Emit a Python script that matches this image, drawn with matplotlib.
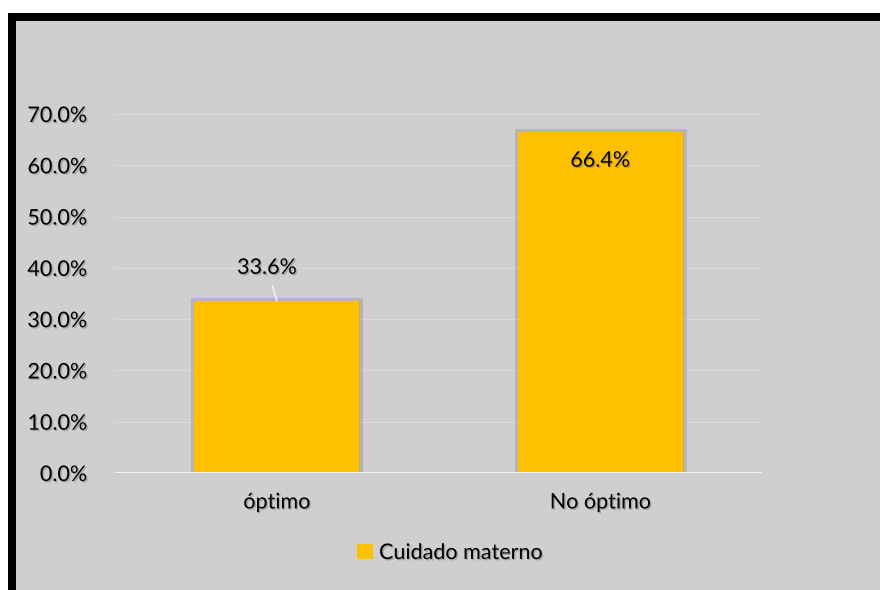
import matplotlib.pyplot as plt
import matplotlib.patheffects as pe
from matplotlib.patches import Rectangle
from matplotlib.ticker import FuncFormatter

# data
categorias = ['óptimo', 'No óptimo']
porcentajes = [0.336, 0.664]
serie = 'Cuidado materno'

bg = '#D0CECF'
amarillo = '#FFC000'
txt_shadow = [pe.withSimplePatchShadow(offset=(1, -1), shadow_rgbFace='#555555', alpha=0.35)]

plt.rcParams['font.family'] = ['Lato', 'DejaVu Sans']

fig = plt.figure(figsize=(8.8, 5.9), dpi=100)
fig.patch.set_facecolor('white')

# gray chart area with thick black frame (top and left visible)
fig.patches.append(Rectangle((8 / 880, 0), 1, 1 - 13 / 590, transform=fig.transFigure,
                             facecolor=bg, edgecolor='none', zorder=-2))
fig.patches.append(Rectangle((8 / 880, 1 - 21 / 590), 1, 8 / 590, transform=fig.transFigure,
                             facecolor='black', edgecolor='none', zorder=-1))
fig.patches.append(Rectangle((8 / 880, 0), 8 / 880, 1 - 13 / 590, transform=fig.transFigure,
                             facecolor='black', edgecolor='none', zorder=-1))

ax = fig.add_axes([115 / 880, 1 - 473 / 590, 647 / 880, 359 / 590])
ax.set_facecolor('none')
ax.set_zorder(2)

x = range(len(categorias))
bars = ax.bar(x, porcentajes, width=0.51, color=amarillo, zorder=3, label=serie)
for b in bars:
    b.set_path_effects([pe.Stroke(linewidth=5, foreground=(0, 0, 0, 0.12)),
                        pe.SimplePatchShadow(offset=(0, -2), shadow_rgbFace='black', alpha=0.15),
                        pe.Normal()])

ax.set_xlim(-0.5, len(categorias) - 0.5)
ax.set_ylim(0, 0.70)
ax.set_yticks([i / 10 for i in range(8)])
ax.yaxis.set_major_formatter(FuncFormatter(lambda v, _: f'{v * 100:.1f}%'))
ax.grid(axis='y', color='#DADADA', linewidth=0.8, zorder=1)
ax.axhline(0, color='#F2F2F2', linewidth=1.5, zorder=4)

for s in ax.spines.values():
    s.set_visible(False)
ax.tick_params(length=0, labelsize=15.5, colors='black')
ax.tick_params(axis='y', pad=20)
ax.tick_params(axis='x', pad=14)
ax.set_xticks(list(x))
ax.set_xticklabels(categorias)
for lab in ax.get_xticklabels() + ax.get_yticklabels():
    lab.set_path_effects(txt_shadow)

# data labels
ax.annotate(f'{porcentajes[0] * 100:.1f}%', xy=(0, porcentajes[0]), xytext=(-0.03, porcentajes[0] + 0.064),
            ha='center', va='center', fontsize=15.5, path_effects=txt_shadow, zorder=6,
            arrowprops=dict(arrowstyle='-', color='#F2F2F2', lw=1.2, shrinkA=4, shrinkB=0))
ax.text(1, porcentajes[1] - 0.055, f'{porcentajes[1] * 100:.1f}%', ha='center', va='center',
        fontsize=15.5, path_effects=txt_shadow, zorder=6)

handle = Rectangle((0, 0), 1, 1, facecolor=amarillo, edgecolor='none')
leg = fig.legend(handles=[handle], labels=[serie], loc='center', bbox_to_anchor=(450 / 880, 1 - 553 / 590),
                 frameon=False, fontsize=15.5, handlelength=0.7, handleheight=0.7, handletextpad=0.3)
for t in leg.get_texts():
    t.set_path_effects(txt_shadow)

fig.savefig('out.png', dpi=100)
